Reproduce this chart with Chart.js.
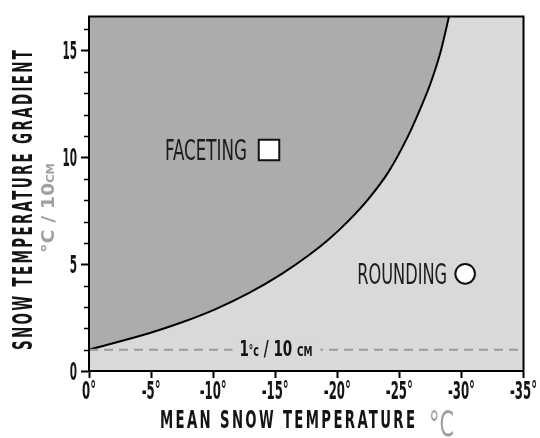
<!DOCTYPE html>
<html>
<head>
<meta charset="utf-8">
<script src="https://cdn.jsdelivr.net/npm/chart.js@4/dist/chart.umd.min.js"></script>
<style>
  html, body { margin: 0; padding: 0; background: #fff; }
  #wrap { width: 540px; height: 438px; }
</style>
</head>
<body>
<div id="wrap"><canvas id="c" width="540" height="438"></canvas></div>
<script>
// ---- data ----
const curveTemp     = [0, -4.9, -7.5, -10.2, -12.9, -15.5, -17.7, -19.3, -20.9, -22.5, -24.1, -25.7, -26.7, -27.5, -28.3, -29.0];
const curveGradient = [1.0, 1.78, 2.28, 2.9, 3.66, 4.54, 5.42, 6.16, 7.03, 8.05, 9.3, 11.0, 12.3, 13.45, 14.9, 16.6];
const thresholdTemp = [0, -35];
const thresholdGradient = [1, 1];
const xTickValues = [0, -5, -10, -15, -20, -25, -30, -35];
const xTickLabels = ['0°', '-5°', '-10°', '-15°', '-20°', '-25°', '-30°', '-35°'];
const yTickValues = [0, 5, 10, 15];
const yTickLabels = ['0', '5', '10', '15'];
const facetingPoint = [-14.5, 10.35];
const roundingPoint = [-30.3, 4.55];
const labelFaceting = 'FACETING';
const labelRounding = 'ROUNDING';
const xTitle = 'MEAN SNOW TEMPERATURE';
const yTitle = 'SNOW TEMPERATURE GRADIENT';

const FAMILY = '"DejaVu Sans Condensed", "DejaVu Sans", sans-serif';
const INK = '#141414';
const GREY_TXT = '#a0a0a0';

function fitText(ctx, text, x, y, o) {
  ctx.save();
  ctx.font = `${o.weight || 'normal'} ${o.size}px ${FAMILY}`;
  try { ctx.letterSpacing = (o.spacing || 0) + 'px'; } catch (e) {}
  ctx.fillStyle = o.color || INK;
  ctx.textBaseline = 'alphabetic';
  ctx.textAlign = 'left';
  const w = ctx.measureText(text).width - (o.spacing || 0);
  const sx = o.width ? o.width / w : 1;
  ctx.translate(x, y);
  ctx.scale(sx, 1);
  let off = 0;
  if (o.align === 'center') off = -w / 2;
  else if (o.align === 'right') off = -w;
  ctx.fillText(text, off, 0);
  ctx.restore();
}

function fitSegments(ctx, segs, x, y, totalWidth, align, color) {
  ctx.save();
  const widths = segs.map(s => { ctx.font = `${s.weight || 'normal'} ${s.size}px ${FAMILY}`; return ctx.measureText(s.t).width; });
  const w = widths.reduce((a, b) => a + b, 0);
  const sx = totalWidth / w;
  ctx.translate(x, y);
  ctx.scale(sx, 1);
  let cx = align === 'center' ? -w / 2 : 0;
  ctx.fillStyle = color;
  ctx.textBaseline = 'alphabetic';
  ctx.textAlign = 'left';
  segs.forEach((s, i) => {
    ctx.font = `${s.weight || 'normal'} ${s.size}px ${FAMILY}`;
    ctx.fillText(s.t, cx, s.dy || 0);
    cx += widths[i];
  });
  ctx.restore();
}

// library tick labels drawn with a condensed look: anchor kept, glyphs narrowed
function condenseLabels(scale, fontStr, refText, refWidth, dy) {
  if (scale._condensed) return;
  scale._condensed = true;
  const orig = scale.drawLabels;
  scale.drawLabels = function (area) {
    const c = this.ctx;
    const of = c.fillText;
    c.fillText = function (t, x, y) {
      this.save();
      this.font = fontStr;
      this.textBaseline = 'alphabetic';
      const sx = refWidth / this.measureText(refText).width;
      this.translate(x, y + dy);
      this.scale(sx, 1);
      of.call(this, t, 0, 0);
      this.restore();
    };
    try { orig.call(this, area); } finally { c.fillText = of; }
  };
}

const decorPlugin = {
  id: 'decor',
  beforeDraw(chart) {
    const { ctx, chartArea: a } = chart;
    ctx.save();
    ctx.fillStyle = '#d9d9d9';
    ctx.fillRect(a.left, a.top, a.width, a.height);
    ctx.restore();
  },
  afterDatasetsDraw(chart) {
    const { ctx, chartArea: a, scales } = chart;
    const xs = scales.x, ys = scales.y;
    const lx = xs.getPixelForValue(-15.1), ly = ys.getPixelForValue(thresholdGradient[0]);
    ctx.save();
    ctx.fillStyle = '#d9d9d9';
    ctx.fillRect(lx - 44, ly - 6, 88, 12);
    ctx.restore();
    fitSegments(ctx, [
      { t: '1', size: 21, weight: 'bold' },
      { t: '°', size: 14, weight: 'bold', dy: -1 },
      { t: 'c', size: 15, weight: 'bold' },
      { t: ' / 10 ', size: 21, weight: 'bold' },
      { t: 'CM', size: 14, weight: 'bold' }
    ], lx - 37, ly + 6, 73, 'left', INK);

    ctx.save();
    ctx.strokeStyle = '#000';
    ctx.lineWidth = 2;
    ctx.strokeRect(a.left, a.top, a.width, a.height);
    ctx.lineWidth = 1.5;
    for (let v = 1; v <= ys.max; v++) {
      if (v % 5 === 0) continue;
      const py = Math.round(ys.getPixelForValue(v)) + 0.5;
      ctx.beginPath();
      ctx.moveTo(a.left - 5, py);
      ctx.lineTo(a.left, py);
      ctx.stroke();
    }
    ctx.restore();
  },
  afterDraw(chart) {
    const { ctx, scales } = chart;
    const xs = scales.x, ys = scales.y;
    fitText(ctx, labelFaceting, xs.getPixelForValue(facetingPoint[0]) - 22, ys.getPixelForValue(facetingPoint[1]) + 10,
      { size: 29, width: 82, align: 'right', color: '#1c1c1c' });
    fitText(ctx, labelRounding, xs.getPixelForValue(roundingPoint[0]) - 18, ys.getPixelForValue(roundingPoint[1]) + 10,
      { size: 28, width: 90, align: 'right', color: '#1c1c1c' });

    fitText(ctx, xTitle, 160, 428, { size: 25, weight: 'bold', width: 255, spacing: 4, color: INK });
    fitText(ctx, '°C', 429, 436, { size: 36, width: 25, color: GREY_TXT });

    ctx.save();
    ctx.translate(32, 200);
    ctx.rotate(-Math.PI / 2);
    fitText(ctx, yTitle, 0, 0, { size: 26, weight: 'bold', width: 300, spacing: 4, align: 'center', color: INK });
    ctx.restore();
    ctx.save();
    ctx.translate(53.5, 208);
    ctx.rotate(-Math.PI / 2);
    fitSegments(ctx, [
      { t: '°C / 10', size: 17.5, weight: 'bold' },
      { t: 'CM', size: 10.5, weight: 'bold' }
    ], 0, 0, 90, 'center', GREY_TXT);
    ctx.restore();
  }
};

const ctx = document.getElementById('c').getContext('2d');
new Chart(ctx, {
  type: 'scatter',
  data: {
    datasets: [
      {
        label: 'boundary',
        data: curveTemp.map((t, i) => ({ x: t, y: curveGradient[i] })),
        showLine: true,
        borderColor: '#000',
        borderWidth: 2,
        pointRadius: 0,
        cubicInterpolationMode: 'monotone',
        fill: 'end',
        backgroundColor: '#acacac',
        order: 3
      },
      {
        label: 'threshold',
        data: thresholdTemp.map((t, i) => ({ x: t, y: thresholdGradient[i] })),
        showLine: true,
        borderColor: '#9a9a9a',
        borderWidth: 2,
        borderDash: [9, 6],
        pointRadius: 0,
        fill: false,
        order: 2
      },
      {
        label: labelFaceting,
        data: [{ x: facetingPoint[0], y: facetingPoint[1] }],
        pointStyle: 'rect',
        pointRadius: 14.5,
        pointBorderWidth: 2,
        pointBackgroundColor: '#fff',
        pointBorderColor: '#111',
        order: 1
      },
      {
        label: labelRounding,
        data: [{ x: roundingPoint[0], y: roundingPoint[1] }],
        pointStyle: 'circle',
        pointRadius: 9.8,
        pointBorderWidth: 2,
        pointBackgroundColor: '#fff',
        pointBorderColor: '#111',
        order: 1
      }
    ]
  },
  options: {
    responsive: false,
    animation: false,
    devicePixelRatio: 1,
    layout: { padding: { top: 14, right: 13, left: 0, bottom: 0 } },
    plugins: { legend: { display: false }, tooltip: { enabled: false } },
    events: [],
    scales: {
      x: {
        type: 'linear',
        min: -35, max: 0,
        reverse: true,
        afterFit(s) {
          s.height = 67; s.paddingLeft = 0; s.paddingRight = 0;
          condenseLabels(s, 'bold 24px ' + FAMILY, '-35°', 27, 3.5);
        },
        afterBuildTicks(s) { s.ticks = xTickValues.map(v => ({ value: v })); },
        border: { display: true, color: '#000', width: 2 },
        grid: { drawOnChartArea: false, drawTicks: true, tickLength: 7, tickColor: '#000', tickWidth: 2 },
        ticks: {
          autoSkip: false, maxRotation: 0, padding: 3,
          color: INK,
          font: { family: FAMILY, size: 24, weight: 'bold' },
          callback: v => xTickLabels[xTickValues.indexOf(v)]
        }
      },
      y: {
        type: 'linear',
        min: 0, max: 16.6,
        afterFit(s) {
          s.width = 89; s.paddingTop = 0; s.paddingBottom = 0;
          condenseLabels(s, 'bold 25px ' + FAMILY, '15', 14.5, 8.5);
        },
        afterBuildTicks(s) { s.ticks = yTickValues.map(v => ({ value: v })); },
        border: { display: true, color: '#000', width: 2 },
        grid: { drawOnChartArea: false, drawTicks: true, tickLength: 8, tickColor: '#000', tickWidth: 2 },
        ticks: {
          padding: 4,
          color: INK,
          font: { family: FAMILY, size: 25, weight: 'bold' },
          callback: v => yTickLabels[yTickValues.indexOf(v)]
        }
      }
    }
  },
  plugins: [decorPlugin]
});
</script>
</body>
</html>
